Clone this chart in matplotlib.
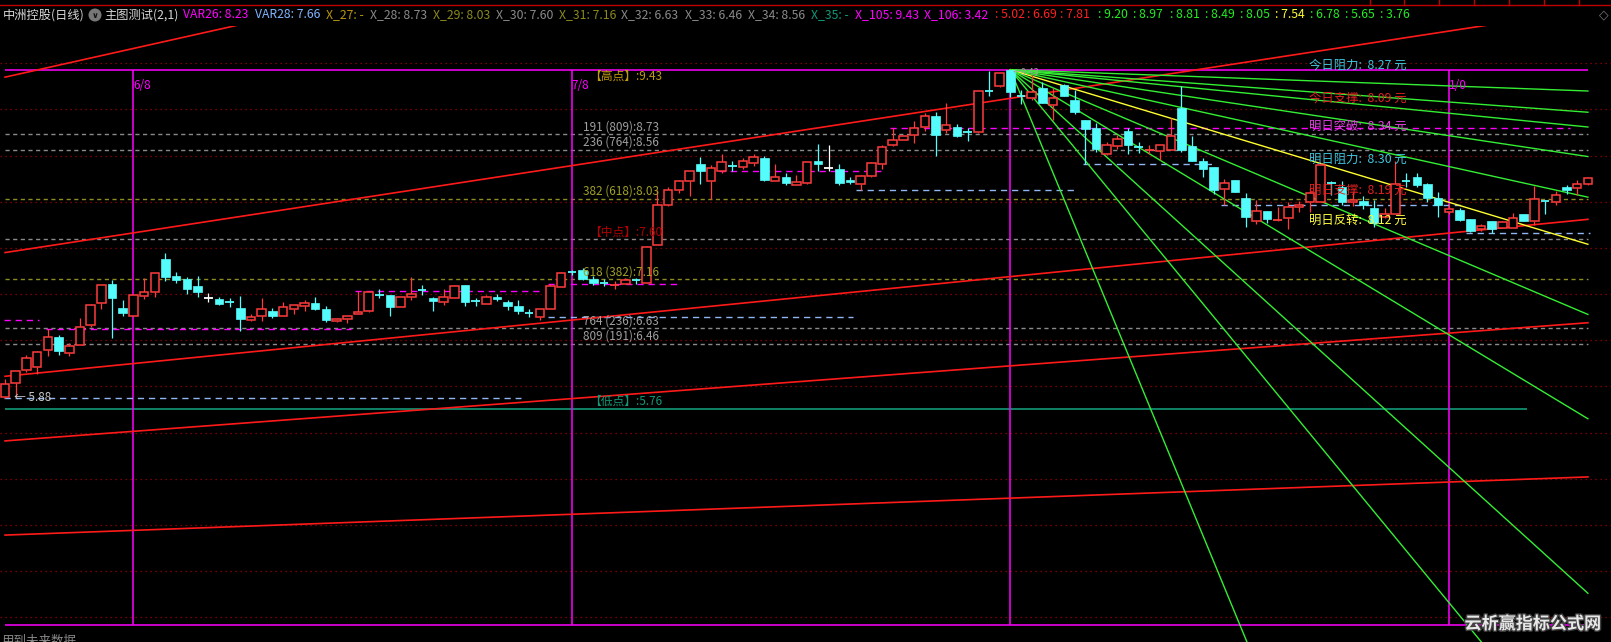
import matplotlib
matplotlib.use('Agg')
import matplotlib.pyplot as plt
from matplotlib.patches import Rectangle, Circle
from matplotlib.lines import Line2D
import matplotlib.patheffects as pe

plt.rcParams['font.family'] = ['Noto Sans CJK SC', 'DejaVu Sans']

# ---------------- data ----------------
opens = [5.89, 6.04, 6.18, 6.21, 6.39, 6.54, 6.36, 6.45, 6.67, 6.90,
         7.11, 6.85, 6.76, 6.98, 7.02, 7.38, 7.20, 7.16, 7.09, 6.96,
         6.95, 6.915, 6.85, 6.72, 6.76, 6.82, 6.76, 6.84, 6.87, 6.90,
         6.84, 6.71, 6.73, 6.78, 6.82, 6.995, 6.99, 6.86, 6.97, 7.045,
         6.96, 6.92, 6.96, 7.10, 6.925, 6.89, 6.97, 6.92, 6.87, 6.795,
         6.75, 6.84, 7.08, 7.245, 7.26, 7.16, 7.125, 7.095, 7.11, 7.155,
         7.12, 7.53, 7.97, 8.13, 8.23, 8.41, 8.22, 8.33, 8.385, 8.38,
         8.42, 8.47, 8.22, 8.27, 8.18, 8.20, 8.44, 8.37, 8.36, 8.24,
         8.19, 8.28, 8.41, 8.61, 8.67, 8.72, 8.81, 8.93, 8.78, 8.81,
         8.755, 8.76, 9.205, 9.25, 9.43, 9.145, 9.12, 9.23, 9.05, 9.27,
         9.10, 8.89, 8.80, 8.52, 8.60, 8.77, 8.595, 8.555, 8.55, 8.56,
         9.02, 8.60, 8.44, 8.38, 8.14, 8.24, 8.04, 7.79, 7.90, 7.80,
         7.82, 7.94, 8.00, 8.00, 8.205, 8.16, 8.00, 8.01, 7.93, 7.84,
         7.87, 8.225, 8.27, 8.19, 8.04, 7.89, 7.91, 7.81, 7.70, 7.79,
         7.72, 7.72, 7.87, 7.79, 8.01, 8.00, 8.16, 8.15, 8.19]
highs = [6.08, 6.17, 6.34, 6.38, 6.62, 6.56, 6.47, 6.74, 6.89, 7.10,
         7.15, 6.94, 6.99, 7.17, 7.23, 7.44, 7.24, 7.19, 7.20, 7.01,
         6.97, 6.96, 6.98, 6.79, 6.96, 6.85, 6.92, 6.88, 6.94, 6.97,
         6.87, 6.74, 6.76, 7.03, 7.03, 7.06, 6.99, 6.97, 7.19, 7.10,
         6.97, 7.05, 7.10, 7.10, 6.96, 6.99, 7.00, 6.94, 6.94, 6.84,
         6.84, 7.11, 7.24, 7.26, 7.28, 7.20, 7.16, 7.14, 7.17, 7.17,
         7.52, 8.13, 8.16, 8.24, 8.33, 8.48, 8.40, 8.52, 8.44, 8.47,
         8.52, 8.50, 8.41, 8.31, 8.29, 8.43, 8.63, 8.61, 8.41, 8.27,
         8.29, 8.43, 8.61, 8.80, 8.71, 8.88, 8.96, 8.97, 9.07, 8.84,
         8.80, 9.20, 9.42, 9.40, 9.43, 9.21, 9.37, 9.30, 9.23, 9.28,
         9.21, 8.89, 8.85, 8.65, 8.72, 8.80, 8.65, 8.62, 8.61, 8.91,
         9.25, 8.71, 8.47, 8.38, 8.25, 8.24, 8.10, 8.02, 7.90, 7.94,
         8.00, 8.01, 8.15, 8.42, 8.23, 8.22, 8.11, 8.06, 8.02, 7.93,
         8.44, 8.31, 8.31, 8.20, 8.11, 7.98, 7.93, 7.81, 7.76, 7.79,
         7.79, 7.88, 7.87, 8.17, 8.01, 8.12, 8.18, 8.24, 8.26]
lows = [5.88, 5.89, 6.16, 6.13, 6.33, 6.34, 6.33, 6.45, 6.64, 6.84,
        6.53, 6.76, 6.76, 6.95, 6.97, 7.14, 7.12, 7.00, 6.97, 6.92,
        6.88, 6.86, 6.60, 6.71, 6.71, 6.74, 6.76, 6.79, 6.82, 6.83,
        6.70, 6.70, 6.69, 6.78, 6.81, 6.96, 6.76, 6.86, 6.94, 6.99,
        6.82, 6.88, 6.96, 6.87, 6.87, 6.89, 6.93, 6.83, 6.79, 6.75,
        6.72, 6.84, 7.08, 7.21, 7.15, 7.10, 7.09, 7.06, 7.11, 7.11,
        7.12, 7.53, 7.95, 8.09, 8.06, 8.19, 8.03, 8.31, 8.33, 8.35,
        8.39, 8.23, 8.22, 8.18, 8.18, 8.19, 8.33, 8.33, 8.18, 8.19,
        8.13, 8.27, 8.36, 8.60, 8.67, 8.64, 8.77, 8.50, 8.74, 8.70,
        8.66, 8.74, 9.15, 9.24, 9.14, 9.06, 9.10, 9.07, 8.89, 9.15,
        8.95, 8.41, 8.54, 8.51, 8.57, 8.52, 8.53, 8.52, 8.45, 8.56,
        8.54, 8.44, 8.27, 8.08, 7.97, 8.11, 7.73, 7.76, 7.77, 7.79,
        7.70, 7.89, 7.89, 8.00, 8.07, 7.97, 7.95, 7.92, 7.73, 7.82,
        7.87, 8.16, 8.16, 8.00, 7.83, 7.87, 7.79, 7.67, 7.68, 7.66,
        7.72, 7.72, 7.79, 7.75, 7.87, 7.97, 8.08, 8.07, 8.18]
closes = [6.03, 6.17, 6.31, 6.37, 6.54, 6.38, 6.44, 6.64, 6.88, 7.10,
          6.96, 6.80, 6.99, 7.02, 7.23, 7.18, 7.15, 7.05, 7.02, 6.96,
          6.89, 6.91, 6.73, 6.75, 6.84, 6.76, 6.86, 6.88, 6.90, 6.84,
          6.72, 6.73, 6.76, 6.81, 7.02, 6.99, 6.86, 6.97, 7.00, 7.04,
          6.93, 6.97, 7.09, 6.92, 6.92, 6.97, 6.95, 6.87, 6.82, 6.79,
          6.84, 7.09, 7.23, 7.24, 7.16, 7.12, 7.12, 7.10, 7.15, 7.15,
          7.51, 7.96, 8.13, 8.22, 8.33, 8.33, 8.37, 8.43, 8.38, 8.44,
          8.48, 8.24, 8.27, 8.20, 8.21, 8.43, 8.41, 8.37, 8.20, 8.21,
          8.28, 8.42, 8.59, 8.67, 8.71, 8.80, 8.93, 8.72, 8.83, 8.71,
          8.75, 9.20, 9.20, 9.40, 9.19, 9.14, 9.19, 9.07, 9.12, 9.15,
          8.97, 8.79, 8.57, 8.61, 8.68, 8.62, 8.59, 8.56, 8.61, 8.71,
          8.56, 8.44, 8.35, 8.13, 8.20, 8.11, 7.84, 7.90, 7.81, 7.81,
          7.94, 7.97, 8.09, 8.40, 8.20, 8.00, 8.02, 7.96, 7.77, 7.87,
          8.19, 8.22, 8.18, 8.04, 7.97, 7.92, 7.80, 7.68, 7.74, 7.71,
          7.78, 7.82, 7.79, 8.03, 8.005, 8.07, 8.13, 8.19, 8.26]

grid_levels = [3.5, 4.0, 4.5, 5.0, 5.5, 6.0, 6.5, 7.0, 7.5, 8.0, 8.5, 9.0, 9.5]
high_price = 9.43
low_price = 5.76
mid_price = 7.60
bottom_price = 3.42
fib_grey = [8.73, 8.56, 7.60, 6.63, 6.46]
fib_olive = [8.03, 7.16]
fib_texts = ["191 (809):8.73", "236 (764):8.56", "382 (618):8.03",
             "618 (382):7.16", "764 (236):6.63", "809 (191):6.46"]
fib_text_levels = [8.73, 8.56, 8.03, 7.16, 6.63, 6.46]
fib_text_kind = ['g', 'g', 'o', 'o', 'g', 'g']
marker_bars = [12, 53, 94, 135]
marker_labels = ["6/8", "7/8", "", "1/0"]

# red trend lines: value at first bar, value at last bar
red_start = [9.35, 7.45, 6.11, 5.41, 4.39]
red_end = [13.18, 10.08, 7.81, 6.69, 5.02]

# fan from the high (bar 94); value reached at the last bar
fan_origin_bar = 94
fan_end = [9.20, 8.97, 8.81, 8.49, 8.05, 7.54, 6.78, 5.65, 3.76]
fan_end_steep = [1.83, -5.70]

# dashed support / resistance segments: (price, from bar, to bar)
blue_segs = [(5.88, -0.1, 48.2), (6.75, 50.8, 79.3), (8.13, 79.6, 100.2),
             (8.41, 100.8, 112.9), (7.97, 113.7, 136.2), (7.66, 136.6, 148.2)]
mag_segs = [(6.72, -0.1, 3.2), (6.62, 3.8, 32.3), (7.03, 32.7, 50.3),
            (7.11, 50.8, 63.1), (8.33, 65.7, 82.1), (8.80, 82.7, 146.3)]

right_names = ["今日阻力", "今日支撑", "明日突破", "明日阻力", "明日支撑", "明日反转"]
right_values = [8.27, 8.09, 8.34, 8.30, 8.19, 8.12]

var26, var28 = 8.23, 7.66

# ---------------- figure ----------------
W, H = 1611, 642
fig = plt.figure(figsize=(W / 100, H / 100), dpi=100, facecolor='black')
ax = fig.add_axes([0, 0, 1, (H - 26) / H])
ax.set_facecolor('black')
ax.set_xlim(-0.473, 150.16)
ax.set_ylim(3.232, 9.904)
ax.axis('off')

n = len(closes)
last = n - 1

RED = '#ff3c3c'
CYAN = '#54fcfc'
GREY = '#8a8a8a'
OLIVE = '#8c8c22'
BLUE = '#8fb6f2'
MAG = '#ff00ff'
GREEN = '#33ee33'
YEL = '#ffff33'
TEAL = '#119977'

# grid (dotted dark red)
for g in grid_levels:
    ax.axhline(g, color='#a00000', lw=0.9, ls=(0, (1, 3)), zorder=1)

# fib levels
for v in fib_grey:
    ax.hlines(v, 0, last, color=GREY, lw=1.0, ls=(0, (3, 2.5)), zorder=2)
for v in fib_olive:
    ax.hlines(v, 0, last, color=OLIVE, lw=1.0, ls=(0, (3, 2.5)), zorder=2)

# high / bottom magenta, low teal
ax.hlines(high_price, 0, last, color=MAG, lw=1.1, zorder=2)
ax.hlines(bottom_price, 0, last, color=MAG, lw=1.1, zorder=2)
ax.hlines(low_price, 0, 142.3, color=TEAL, lw=1.2, zorder=2)

# vertical markers
for b, lab in zip(marker_bars, marker_labels):
    ax.vlines(b, bottom_price, high_price, color=MAG, lw=1.1, zorder=2)
    if lab:
        ax.text(b, 9.257, lab, color=MAG, fontsize=8.5, ha='left', va='center', zorder=8)

# dashed segments
for p, a, b in blue_segs:
    ax.hlines(p, a, b, color=BLUE, lw=1.0, ls=(0, (4.5, 3.5)), zorder=3)
for p, a, b in mag_segs:
    ax.hlines(p, a, b, color=MAG, lw=1.0, ls=(0, (4.5, 3.5)), zorder=3)

# red trend lines
for s, e in zip(red_start, red_end):
    ax.plot([0, last], [s, e], color='#ff1a1a', lw=1.2, zorder=3)

# fan lines
for v in fan_end + fan_end_steep:
    col = YEL if v == 7.54 else GREEN
    ax.plot([fan_origin_bar, last], [high_price, v], color=col, lw=1.0, zorder=4)

# candles
w = 0.8
for i, (o, h, l, c) in enumerate(zip(opens, highs, lows, closes)):
    if abs(c - o) < 0.012:
        col = RED if c > o else (CYAN if c < o else 'white')
        ax.vlines(i, l, h, color=col, lw=0.9, zorder=5)
        ax.hlines((o + c) / 2, i - w / 2, i + w / 2, color=col, lw=1.3, zorder=5)
    elif c > o:
        ax.vlines(i, c, h, color=RED, lw=0.9, zorder=5)
        ax.vlines(i, l, o, color=RED, lw=0.9, zorder=5)
        ax.add_patch(Rectangle((i - w / 2, o), w, c - o, facecolor='black',
                               edgecolor=RED, lw=1.1, zorder=5))
    else:
        ax.vlines(i, l, h, color=CYAN, lw=0.9, zorder=5)
        ax.add_patch(Rectangle((i - w / 2, c), w, o - c, facecolor=CYAN,
                               edgecolor=CYAN, lw=0.5, zorder=5))

# fib labels
for t, lv, k in zip(fib_texts, fib_text_levels, fib_text_kind):
    ax.text(54.0, lv + 0.083, t, color=('#a0a0a0' if k == 'g' else '#a0a028'),
            fontsize=8.5, ha='left', va='center', zorder=8)
ax.text(54.6, high_price - 0.075, f"【高点】:{high_price:.2f}", color='#c09a10',
        fontsize=8.5, ha='left', va='center', zorder=8)
ax.text(54.6, mid_price + 0.076, f"【中点】:{mid_price:.2f}", color='#b00000',
        fontsize=8.5, ha='left', va='center', zorder=8)
ax.text(54.6, low_price + 0.075, f"【低点】:{low_price:.2f}", color=TEAL,
        fontsize=8.5, ha='left', va='center', zorder=8)
ax.text(0.84, lows[0], f"← {lows[0]:.2f}", color='#c8c8c8', fontsize=8.5,
        ha='left', va='center', zorder=8)
ax.text(94.2, high_price - 0.03, f"←{high_price:.2f}", color='#a0a0a0', fontsize=6.5,
        ha='left', va='center', zorder=8)

# right side labels
r_cols = ['#3cc6dc', '#e02020', '#e040e0', '#3cc6dc', '#e02020', '#ffff40']
r_y = [9.482, 9.127, 8.813, 8.460, 8.128, 7.803]
for nm, v, cc, yy in zip(right_names, right_values, r_cols, r_y):
    ax.text(121.9, yy, f"{nm}:  {v:.2f} 元", color=cc, fontsize=8.9,
            ha='left', va='center', zorder=8)


# ---------------- header ----------------
def ftxt(x, y, s, **kw):
    return fig.text(x / W, 1 - y / H, s, **kw)


fig.add_artist(Line2D([0, 1], [1 - 5.3 / H] * 2, color='#c00000', lw=1.0))
for xd in [1370, 1404.3, 1439.3, 1474.3, 1509.3, 1544.3, 1579.3]:
    fig.add_artist(Line2D([xd / W] * 2, [1 - 5.3 / H, 1], color='#c00000', lw=1.0))

fig.add_artist(Circle((0.95, (H - 15) / 100), 0.065, transform=fig.dpi_scale_trans,
                      facecolor='#777777', edgecolor='none'))
ftxt(95, 15, "∨", color='#111111', fontsize=6, ha='center', va='center',
     family='DejaVu Sans', weight='bold')

hdr = [("中洲控股(日线)", '#d8d8d8', 3),
       ("主图测试(2,1)", '#d8d8d8', 104.5),
       (f"VAR26: {var26:.2f}", MAG, 183),
       (f"VAR28: {var28:.2f}", '#80b4ff', 255),
       ("X_27: -", '#b8960c', 326.5),
       (f"X_28: {fib_grey[0]:.2f}", GREY, 370.5),
       (f"X_29: {fib_olive[0]:.2f}", '#8a8a1e', 433),
       (f"X_30: {fib_grey[2]:.2f}", GREY, 495.6),
       (f"X_31: {fib_olive[1]:.2f}", '#8a8a1e', 558.7),
       (f"X_32: {fib_grey[3]:.2f}", GREY, 621),
       (f"X_33: {fib_grey[4]:.2f}", GREY, 685),
       (f"X_34: {fib_grey[1]:.2f}", GREY, 748),
       ("X_35: -", TEAL, 811),
       (f"X_105: {high_price:.2f}", MAG, 855),
       (f"X_106: {bottom_price:.2f}", MAG, 923.7)]
red_x = [995, 1027, 1060]
for v, x in zip(sorted(red_end[2:]), red_x):
    hdr.append((f": {v:.2f}", '#ff2020', x))
fan_x = [1098.5, 1133, 1170, 1205, 1240, 1275, 1310, 1345, 1380]
for v, x in zip(fan_end, fan_x):
    hdr.append((f": {v:.2f}", YEL if v == 7.54 else '#22ee22', x))
for s, c, x in hdr:
    ftxt(x, 15, s, color=c, fontsize=8.8, ha='left', va='center')

ftxt(1604, 15, "◇", color='#777777', fontsize=9, ha='center', va='center', family='DejaVu Sans')

# bottom
ftxt(2, 641, "用到未来数据", color='#8a8a8a', fontsize=9, ha='left', va='center')
ftxt(1533, 624, "云析赢指标公式网", color='#e8e8e8', fontsize=12.3, weight='bold',
     ha='center', va='center',
     path_effects=[pe.withStroke(linewidth=2, foreground='#404040')])

fig.savefig('out.png', dpi=100, facecolor='black')
